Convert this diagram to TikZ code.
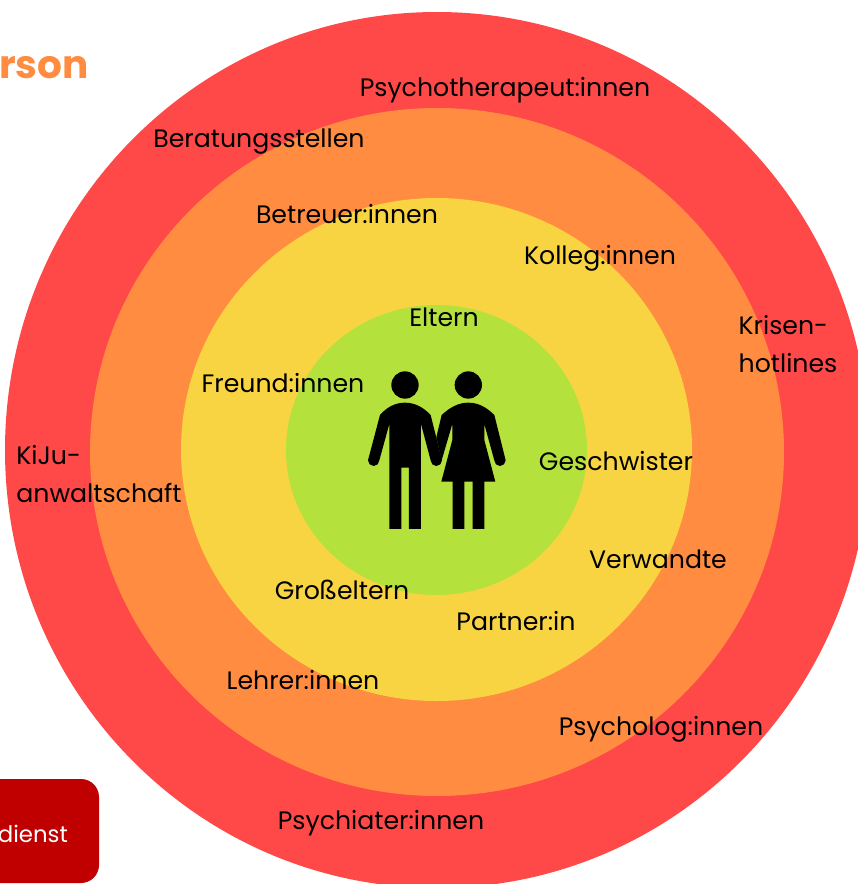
\documentclass[tikz,border=0pt]{standalone}
\usepackage{fontspec}
\setmainfont{Poppins}
\usetikzlibrary{positioning}

\begin{document}
\begin{tikzpicture}[x=1pt, y=-1pt, ring/.style={draw=none}, lbl/.style={inner sep=0pt, font=\fontsize{25.2}{38}\selectfont, text=black, align=left}, person/.style={fill=black, draw=none}]
\useasboundingbox (0,0) rectangle (858,884);
\begin{scope}
\clip (0,0) rectangle (858,884);
\fill[ring, fill={rgb,255:red,255;green,72;blue,72}] (437,450) ellipse [x radius=432, y radius=438];
\fill[ring, fill={rgb,255:red,255;green,140;blue,64}] (437,452) ellipse [x radius=347, y radius=344];
\fill[ring, fill={rgb,255:red,249;green,212;blue,66}] (436.5,449.5) ellipse [x radius=255.5, y radius=251.5];
\fill[ring, fill={rgb,255:red,181;green,225;blue,60}] (436.5,450) ellipse [x radius=150.5, y radius=145];
\fill[fill={rgb,255:red,192;green,0;blue,0}, rounded corners=18pt] (-40,779) rectangle (99,883);
\end{scope}
\begin{scope}[shift={(340,350)}, x=0.3333pt, y=-0.3333pt]
\fill[person] (195,105) circle [radius=41];
\fill[person] (385,105) circle [radius=41];
\fill[person] (148,537) -- (184,537) -- (184,353) -- (207,353) -- (207,537) -- (243,537) -- (243,222) -- (272,331) arc [start angle=180, end angle=0, radius=17] -- (272,195) .. controls (250,172) and (225,158) .. (195,158) .. controls (165,158) and (140,172) .. (120,195) -- (84,331) arc [start angle=180, end angle=0, radius=17] -- (148,222) -- cycle;
\fill[person] (337,222) -- (337,270) -- (304,395) -- (338,395) -- (338,537) -- (373,537) -- (373,395) -- (398,395) -- (398,537) -- (433,537) -- (433,395) -- (466,395) -- (433,270) -- (433,222) -- (463,331) arc [start angle=180, end angle=0, radius=17] -- (463,195) .. controls (440,172) and (415,158) .. (385,158) .. controls (355,158) and (330,172) .. (305,195) -- (289,262) -- (305,331) -- cycle;
\end{scope}
\node[lbl, anchor=east] (title) at (89,68) {\fontsize{39}{39}\selectfont\bfseries\color[RGB]{255,140,64}rson};
\node[lbl, anchor=east, text=white, font=\fontsize{22.8}{38}\selectfont] (dienst) at (68,834) {dienst};
\node[lbl] (psychotherapeut) at (505,90) {Psychotherapeut:innen};
\node[lbl] (beratung) at (259,142) {Beratungsstellen};
\node[lbl] (betreuer) at (347,214) {Betreuer:innen};
\node[lbl] (kolleg) at (600,258) {Kolleg:innen};
\node[lbl] (krisen) at (788,344) {Krisen-\\hotlines};
\node[lbl] (eltern) at (444,317) {Eltern};
\node[lbl] (freund) at (283,383) {Freund:innen};
\node[lbl] (kiju) at (99,474) {KiJu-\\anwaltschaft};
\node[lbl] (geschwister) at (616,461) {Geschwister};
\node[lbl] (verwandte) at (658,559) {Verwandte};
\node[lbl] (grosseltern) at (342,590) {Großeltern};
\node[lbl] (partner) at (516,621) {Partner:in};
\node[lbl] (lehrer) at (303,680) {Lehrer:innen};
\node[lbl] (psycholog) at (661,729) {Psycholog:innen};
\node[lbl] (psychiater) at (381,823) {Psychiater:innen};
\end{tikzpicture}
\end{document}
